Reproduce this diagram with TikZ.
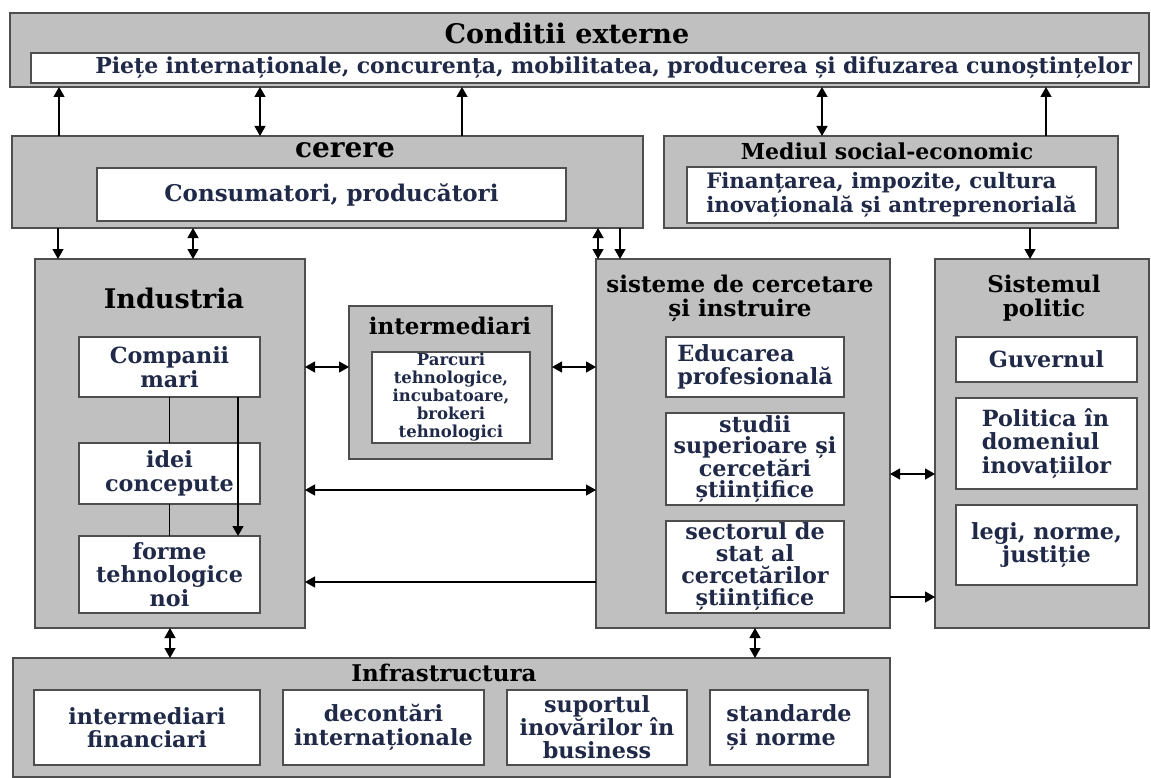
\documentclass[tikz,border=0pt]{standalone}
\usepackage{fontspec}
\setmainfont{DejaVu Serif}
\usetikzlibrary{arrows.meta,positioning}

\definecolor{panelgray}{RGB}{192,192,192}
\definecolor{framegray}{RGB}{78,78,78}
\definecolor{inkblue}{RGB}{32,42,72}

\begin{document}
\begin{tikzpicture}[
    x=1pt, y=-1pt,
    panel/.style={rectangle, draw=framegray, line width=1.6pt, fill=panelgray, anchor=north west, inner sep=0pt, outer sep=0pt},
    cell/.style={rectangle, draw=framegray, line width=1.3pt, fill=white, align=center, text=inkblue, inner sep=1pt, outer sep=0pt, font=\fontsize{22.3}{23.5}\selectfont\bfseries},
    head/.style={align=center, text=black, inner sep=0pt, font=\fontsize{23}{24}\selectfont\bfseries},
    arrow/.style={-{Triangle[length=10pt,width=11pt]}, line width=1.3pt},
    both/.style={{Triangle[length=10pt,width=11pt]}-{Triangle[length=10pt,width=11pt]}, line width=1.3pt}
]
\useasboundingbox (0,0) rectangle (1151,778);

% Conditii externe
\node[panel, minimum width=1139pt, minimum height=74pt] (ext) at (10,13) {};
\node[head, font=\fontsize{27}{28}\selectfont\bfseries] (extt) at (567,33) {Conditii externe};
\node[cell, minimum width=1108pt, minimum height=30pt, anchor=north west, text width=1094pt, align=right, font=\fontsize{22}{23}\selectfont\bfseries] (piete) at (31,53) {Piețe internaționale, concurența, mobilitatea, producerea și difuzarea cunoștințelor};

% cerere
\node[panel, minimum width=631pt, minimum height=92pt] (cer) at (12,136) {};
\node[head, font=\fontsize{28}{28}\selectfont\bfseries] (cert) at (345,150) {cerere};
\node[cell, minimum width=469pt, minimum height=53pt, anchor=north west, font=\fontsize{23}{24}\selectfont\bfseries] (cons) at (97,168) {Consumatori, producători};

% Mediul social-economic
\node[panel, minimum width=454pt, minimum height=92pt] (med) at (664,136) {};
\node[head, font=\fontsize{22}{22}\selectfont\bfseries] (medt) at (887,151) {Mediul social-economic};
\node[cell, minimum width=409pt, minimum height=56pt, anchor=north west, align=left, font=\fontsize{21.3}{24}\selectfont\bfseries] (fin) at (687,167) {Finanțarea, impozite, cultura\\inovațională și antreprenorială};

% Industria
\node[panel, minimum width=270pt, minimum height=369pt] (ind) at (35,259) {};
\node[head, font=\fontsize{27}{28}\selectfont\bfseries] (indt) at (174,298) {Industria};
\node[cell, minimum width=181pt, minimum height=60pt, anchor=north west] (comp) at (79,337) {Companii\\mari};
\node[cell, minimum width=181pt, minimum height=61pt, below=46pt of comp] (idei) {idei\\concepute};
\node[cell, minimum width=181pt, minimum height=77pt, below=32pt of idei] (forme) {forme\\tehnologice\\noi};

% intermediari
\node[panel, minimum width=203pt, minimum height=153pt] (intm) at (349,306) {};
\node[head] (intmt) at (450,326) {intermediari};
\node[cell, minimum width=158pt, minimum height=91pt, anchor=north west, inner sep=0pt, font=\fontsize{16.5}{18}\selectfont\bfseries] (parc) at (372,352) {Parcuri\\tehnologice,\\incubatoare,\\brokeri\\tehnologici};

% sisteme de cercetare
\node[panel, minimum width=294pt, minimum height=369pt] (sis) at (596,259) {};
\node[head] (sist) at (740,298) {sisteme de cercetare\\și instruire};
\node[cell, minimum width=178pt, minimum height=60pt, anchor=north west, align=left] (educ) at (666,337) {Educarea\\profesională};
\node[cell, minimum width=178pt, minimum height=92pt, below=16pt of educ, font=\fontsize{22.3}{21}\selectfont\bfseries] (stud) {studii\\superioare și\\cercetări\\științifice};
\node[cell, minimum width=178pt, minimum height=92pt, below=16pt of stud, font=\fontsize{22.3}{22}\selectfont\bfseries] (sect) {sectorul de\\stat al\\cercetărilor\\științifice};

% Sistemul politic
\node[panel, minimum width=214pt, minimum height=369pt] (pol) at (935,259) {};
\node[head] (polt) at (1044,298) {Sistemul\\politic};
\node[cell, minimum width=181pt, minimum height=45pt, anchor=north west] (guv) at (956,337) {Guvernul};
\node[cell, minimum width=181pt, minimum height=91pt, below=16pt of guv, align=left] (polit) {Politica în\\domeniul\\inovațiilor};
\node[cell, minimum width=181pt, minimum height=80pt, below=16pt of polit] (legi) {legi, norme,\\justiție};

% Infrastructura
\node[panel, minimum width=877pt, minimum height=119pt] (inf) at (13,658) {};
\node[head] (inft) at (444,673) {Infrastructura};
\node[cell, minimum width=226pt, minimum height=75pt, anchor=north west] (ifin) at (34,690) {intermediari\\financiari};
\node[cell, minimum width=201pt, minimum height=75pt, right=23pt of ifin] (idec) {decontări\\internaționale};
\node[cell, minimum width=180pt, minimum height=75pt, right=23pt of idec, font=\fontsize{22.3}{23}\selectfont\bfseries] (isup) {suportul\\inovărilor în\\business};
\node[cell, minimum width=158pt, minimum height=75pt, right=23pt of isup, align=left] (istd) {standarde\\și norme};

% cerere / mediul -- conditii externe
\coordinate (u1) at ([xshift=47pt]cer.north west);
\coordinate (u2) at ([xshift=248pt]cer.north west);
\coordinate (u3) at ([xshift=450pt]cer.north west);
\coordinate (u4) at ([xshift=158pt]med.north west);
\coordinate (u5) at ([xshift=382pt]med.north west);
\draw[arrow] (u1) -- (u1 |- ext.south);
\draw[both] (u2) -- (u2 |- ext.south);
\draw[arrow] (u3) -- (u3 |- ext.south);
\draw[both] (u4) -- (u4 |- ext.south);
\draw[arrow] (u5) -- (u5 |- ext.south);

% cerere -- industria, sisteme
\coordinate (d1) at ([xshift=23pt]ind.north west);
\coordinate (d2) at ([xshift=158pt]ind.north west);
\coordinate (d3) at ([xshift=2pt]sis.north west);
\coordinate (d4) at ([xshift=24pt]sis.north west);
\coordinate (d5) at ([xshift=95pt]pol.north west);
\draw[arrow] (d1 |- cer.south) -- (d1);
\draw[both] (d2 |- cer.south) -- (d2);
\draw[both] (d3 |- cer.south) -- (d3);
\draw[arrow] (d4 |- cer.south) -- (d4);
\draw[arrow] (d5 |- med.south) -- (d5);

% legaturi orizontale
\coordinate (h1) at ([yshift=-108pt]ind.north east);
\coordinate (h2) at ([yshift=-61pt]intm.north east);
\coordinate (h3) at ([yshift=-231pt]ind.north east);
\coordinate (h4) at ([yshift=-323pt]ind.north east);
\coordinate (h5) at ([yshift=-215pt]sis.north east);
\coordinate (h6) at ([yshift=-338pt]sis.north east);
\draw[both] (h1) -- (h1 -| intm.west);
\draw[both] (h2) -- (h2 -| sis.west);
\draw[both] (h3) -- (h3 -| sis.west);
\draw[arrow] (h4 -| sis.west) -- (h4);
\draw[both] (h5) -- (h5 -| pol.west);
\draw[arrow] (h6) -- (h6 -| pol.west);

% spre infrastructura
\coordinate (v1) at ([xshift=135pt]ind.south west);
\coordinate (v2) at ([xshift=159pt]sis.south west);
\draw[both] (v1) -- (v1 |- inf.north);
\draw[both] (v2) -- (v2 |- inf.north);

% in interiorul industriei
\draw[line width=1.2pt] (comp.south) -- (idei.north);
\draw[line width=1.2pt] (idei.south) -- (forme.north);
\coordinate (k1) at ([xshift=159pt]comp.south west);
\draw[arrow] (k1) -- (k1 |- forme.north);

\end{tikzpicture}
\end{document}
